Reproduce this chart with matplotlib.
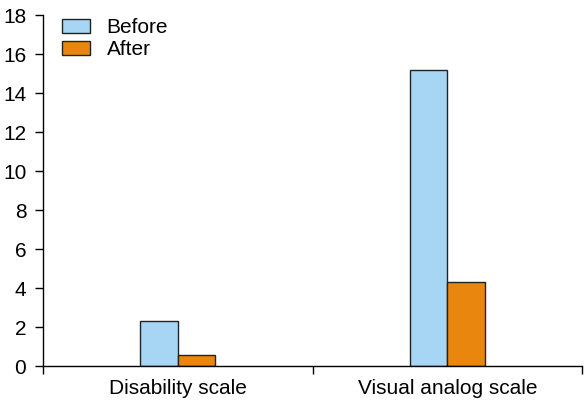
import matplotlib
matplotlib.use("Agg")
import matplotlib.pyplot as plt
import numpy as np

categories = ["Disability scale", "Visual analog scale"]
before = [2.3, 15.2]
after = [0.6, 4.3]
series_labels = ["Before", "After"]

plt.rcParams['font.family'] = ['Liberation Sans', 'DejaVu Sans']

fig = plt.figure(figsize=(5.84, 4.03), dpi=100)
ax = fig.add_axes([43/584, 1-366.3/403, (582-43)/584, (366.3-15.3)/403])

x = np.arange(len(categories))
w = 0.14
ax.bar(x - w/2, before, w, color='#a6d6f4', edgecolor='#222222', linewidth=1.0, label=series_labels[0])
ax.bar(x + w/2, after, w, color='#e8860e', edgecolor='#222222', linewidth=1.0, label=series_labels[1])

ax.set_xlim(-0.5, 1.5)
ax.set_ylim(0, 18)
ax.set_yticks(range(0, 19, 2))
ax.set_xticks([-0.5, 0.5, 1.5])
ax.set_xticklabels([])
ax.set_xticks(x, minor=True)
ax.set_xticklabels(categories, minor=True)
ax.tick_params(axis='x', which='minor', length=0, pad=9, labelsize=15)
ax.tick_params(axis='x', which='major', length=6, direction='out', width=1)
ax.tick_params(axis='y', length=6, direction='out', width=1, labelsize=15, pad=6)
for s in ['top', 'right']:
    ax.spines[s].set_visible(False)
for s in ['left', 'bottom']:
    ax.spines[s].set_linewidth(1.0)

ax.legend(loc='upper left', bbox_to_anchor=(0.0, 1.045), frameon=False, fontsize=15,
          handlelength=1.35, handleheight=0.67, handletextpad=0.8, labelspacing=0.15)

fig.savefig("out.png", dpi=100)
